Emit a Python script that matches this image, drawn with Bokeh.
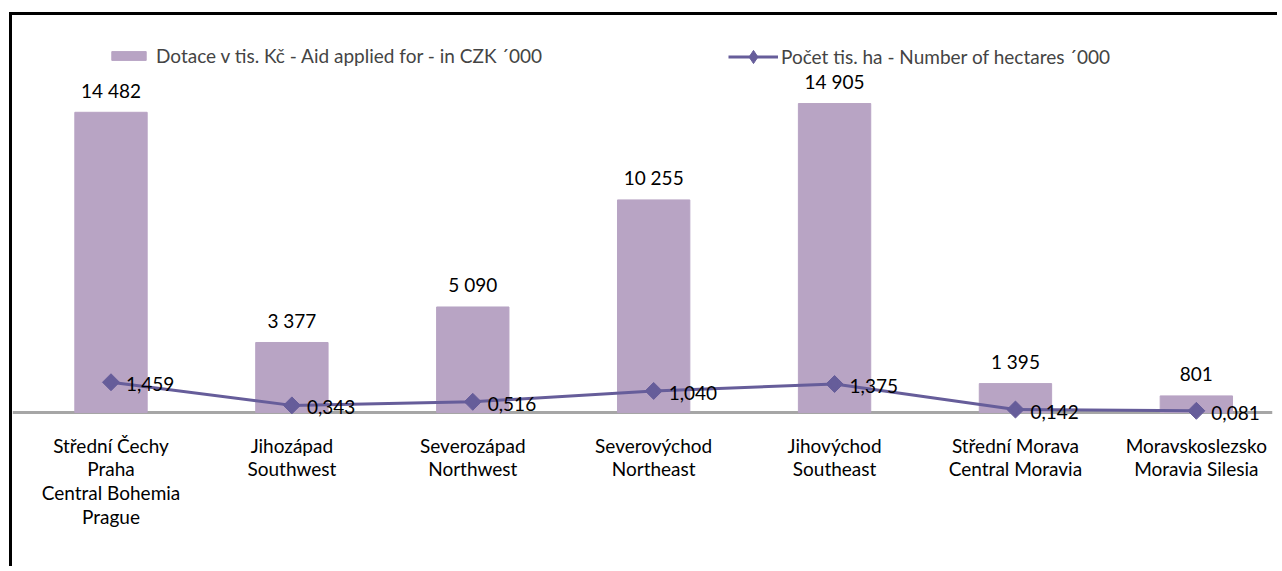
import math
from bokeh.plotting import figure
from bokeh.models import (ColumnDataSource, Range1d, LabelSet, Legend,
                          LegendItem, FixedTicker, Span)
from bokeh.core.properties import value
from bokeh.embed import file_html
from bokeh.resources import INLINE

categories = [
    "Střední Čechy\nPraha\nCentral Bohemia\nPrague",
    "Jihozápad\nSouthwest",
    "Severozápad\nNorthwest",
    "Severovýchod\nNortheast",
    "Jihovýchod\nSoutheast",
    "Střední Morava\nCentral Moravia",
    "Moravskoslezsko\nMoravia Silesia",
]
aid = [14482, 3377, 5090, 10255, 14905, 1395, 801]
hectares = [1.459, 0.343, 0.516, 1.040, 1.375, 0.142, 0.081]
series_names = ["Dotace v tis. Kč - Aid applied for - in CZK ´000",
                "Počet tis. ha - Number of hectares ´000"]

BAR = "#B8A4C4"
LINE = "#665D9A"
FONT = "Lato"
FS = "19px"

idx = list(range(len(categories)))
src = ColumnDataSource(dict(
    x=idx, aid=aid, ha=hectares,
    aid_lbl=[f"{v:,}".replace(",", " ") for v in aid],
    ha_lbl=[f"{v:.3f}".replace(".", ",") for v in hectares],
))

p = figure(width=1268, height=554, output_backend="svg", toolbar_location=None,
           x_range=Range1d(-0.5445, 6.421), y_range=Range1d(-579, 19151),
           min_border_left=0, min_border_right=8, min_border_top=0, min_border_bottom=145)
p.styles = {"border-left": "3px solid black", "border-top": "3px solid black",
            "margin-left": "9px", "margin-top": "12px"}
p.outline_line_color = None
p.grid.visible = False
p.yaxis.visible = False
p.extra_y_ranges = {"ha": Range1d(-0.579, 19.151)}

p.add_layout(Span(location=0, dimension="width", line_color="#A6A6A6", line_width=3,
                  level="underlay"))

bars = p.vbar(x="x", top="aid", bottom=0, width=0.4, source=src, color=BAR)
ln = p.line(x="x", y="ha", source=src, y_range_name="ha", line_color=LINE, line_width=3)
mk = p.scatter(x="x", y="ha", source=src, y_range_name="ha", marker="square",
               angle=math.pi / 4, size=12, color=LINE)
# diamond drawn inside the rotated squares; used for the legend symbol
mk_leg = p.scatter(x="x", y="ha", source=src, y_range_name="ha", marker="diamond",
                   size=12, color=LINE)

ax = p.xaxis[0]
ax.ticker = FixedTicker(ticks=idx)
ax.major_label_overrides = {i: c for i, c in zip(idx, categories)}
ax.axis_line_color = None
ax.major_tick_line_color = None
ax.minor_tick_line_color = None
ax.major_label_standoff = 3
ax.major_label_text_font = FONT
ax.major_label_text_font_size = FS
ax.major_label_text_color = "black"
ax.major_label_text_line_height = 1.03

p.add_layout(LabelSet(x="x", y="aid", text="aid_lbl", source=src, y_offset=22,
                      text_align="center", text_baseline="middle", text_font=value(FONT),
                      text_font_size=value(FS), text_color="black"))
p.add_layout(LabelSet(x="x", y="ha", text="ha_lbl", source=src, y_range_name="ha",
                      x_offset=15, y_offset=-2, text_align="left", text_baseline="middle",
                      text_font=value(FONT), text_font_size=value(FS), text_color="black"))

leg1 = Legend(items=[LegendItem(label=series_names[0], renderers=[bars])],
              location=(95, 357), glyph_width=43, glyph_height=11, label_height=11,
              label_standoff=6, padding=0, margin=0, border_line_color=None,
              background_fill_alpha=0, label_text_font=FONT, label_text_font_size=FS)
leg2 = Legend(items=[LegendItem(label=series_names[1], renderers=[ln, mk_leg])],
              location=(716, 351), glyph_width=50, glyph_height=33, label_height=23,
              label_standoff=3, padding=0, margin=0, border_line_color=None,
              background_fill_alpha=0, label_text_font=FONT, label_text_font_size=FS)
p.add_layout(leg1)
p.add_layout(leg2)

open("out.html", "w").write(file_html(p, INLINE))
